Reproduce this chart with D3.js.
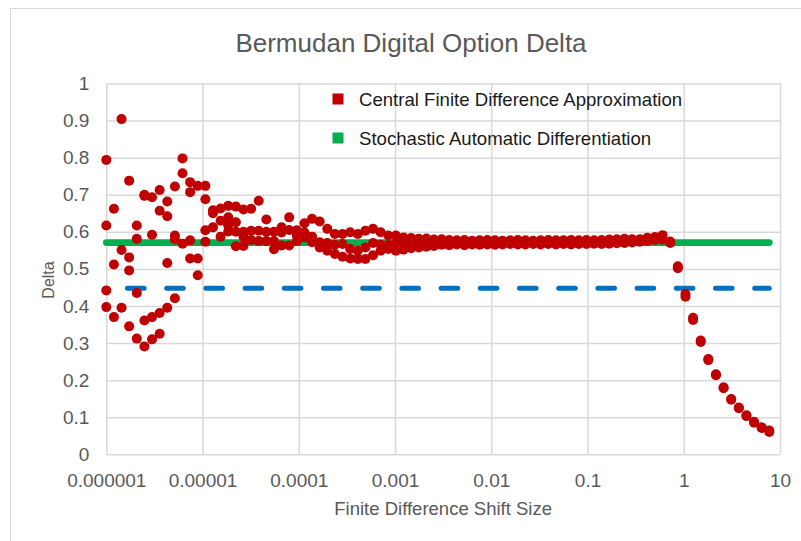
<!DOCTYPE html>
<html><head><meta charset="utf-8">
<script src="https://cdn.jsdelivr.net/npm/d3@7"></script>
<style>body{margin:0;background:#fff}svg{display:block}</style>
</head><body><svg id="c" width="801" height="541"></svg>
<script>
const chartTitle = "Bermudan Digital Option Delta";
const xAxisTitle = "Finite Difference Shift Size";
const yAxisTitle = "Delta";
const seriesNames = ["Central Finite Difference Approximation", "Stochastic Automatic Differentiation"];

const shiftSize = [1e-6,1.2e-6,1.44e-6,1.728e-6,2.074e-6,2.488e-6,2.986e-6,3.583e-6,4.3e-6,5.16e-6,
6.192e-6,7.43e-6,8.916e-6,1.07e-5,1.284e-5,1.541e-5,1.849e-5,2.219e-5,2.662e-5,3.195e-5,
3.834e-5,4.601e-5,5.521e-5,6.625e-5,7.95e-5,9.54e-5,1.145e-4,1.374e-4,1.648e-4,1.978e-4,
2.374e-4,2.849e-4,3.418e-4,4.102e-4,4.922e-4,5.907e-4,7.088e-4,8.506e-4,1.021e-3,1.225e-3,
1.47e-3,1.764e-3,2.116e-3,2.54e-3,3.048e-3,3.657e-3,4.389e-3,5.266e-3,6.32e-3,7.584e-3,
9.1e-3,1.092e-2,1.31e-2,1.573e-2,1.887e-2,2.264e-2,2.717e-2,3.261e-2,3.913e-2,4.696e-2,
5.635e-2,6.762e-2,8.114e-2,9.737e-2,0.1168,0.1402,0.1683,0.2019,0.2423,0.2907,
0.3489,0.4187,0.5024,0.6029,0.7235,0.8681,1.042,1.25,1.5,1.8,
2.16,2.592,3.111,3.733,4.479,5.375,6.45,7.74];

const deltaRunA = [0.794,0.662,0.904,0.738,0.617,0.700,0.693,0.713,0.682,0.722,
0.798,0.734,0.724,0.724,0.658,0.663,0.670,0.668,0.660,0.662,
0.684,0.633,0.600,0.612,0.639,0.604,0.623,0.635,0.628,0.608,
0.594,0.594,0.599,0.594,0.603,0.608,0.599,0.590,0.590,0.585,
0.583,0.581,0.582,0.579,0.580,0.578,0.577,0.578,0.576,0.577,
0.578,0.577,0.576,0.577,0.578,0.577,0.576,0.577,0.578,0.577,
0.577,0.578,0.577,0.578,0.577,0.578,0.579,0.580,0.581,0.580,
0.580,0.584,0.586,0.591,0.574,0.507,0.432,0.368,0.307,0.257,
0.216,0.181,0.149,0.126,0.105,0.088,0.073,0.064];

const deltaRunB = [0.617,0.512,0.551,0.531,0.581,0.697,0.592,0.657,0.642,0.590,
0.758,0.707,0.528,0.688,0.650,0.630,0.639,0.626,0.600,0.603,
0.603,0.600,0.575,0.598,0.605,0.590,0.598,0.587,0.572,0.570,
0.565,0.567,0.554,0.549,0.558,0.570,0.565,0.565,0.570,0.570,
0.572,0.567,0.570,0.566,0.565,0.564,0.566,0.564,0.566,0.565,
0.566,0.565,0.566,0.567,0.566,0.566,0.567,0.566,0.567,0.566,
0.567,0.566,0.567,0.567,0.568,0.567,0.568,0.569,0.570,0.571,
0.573,0.575,0.578,0.579,0.570,0.502,0.425,0.362,0.303,0.254,
0.213,0.178,0.147,0.124,0.103,0.085,0.071,0.060];

const deltaRunC = [0.442,0.370,0.395,0.496,0.435,0.361,0.370,0.381,0.516,0.580,
0.568,0.577,0.483,0.604,0.612,0.587,0.617,0.600,0.587,0.578,
0.575,0.575,0.553,0.563,0.563,0.575,0.585,0.572,0.558,0.549,
0.540,0.533,0.528,0.527,0.527,0.537,0.549,0.554,0.549,0.552,
0.556,0.558,0.560,0.562,null,null,null,null,null,null,
null,null,null,null,null,null,null,null,null,null,
null,null,null,null,null,null,null,null,null,null,
null,null,null,null,null,null,null,null,null,null,
null,null,null,null,null,null,null,null];

const deltaRunD = [0.397,null,null,0.345,0.312,0.291,0.310,0.325,0.395,0.421,
null,0.528,null,0.573,null,null,0.601,0.561,0.562,null,
null,null,null,null,null,null,null,null,null,null,
null,null,null,null,null,null,null,null,null,null,
null,null,null,null,null,null,null,null,null,null,
null,null,null,null,null,null,null,null,null,null,
null,null,null,null,null,null,null,null,null,null,
null,null,null,null,null,null,null,null,null,null,
null,null,null,null,null,null,null,null];

const sadDelta = 0.571;
const referenceDelta = 0.448;

const xTickValues = [1e-6,1e-5,1e-4,1e-3,1e-2,1e-1,1,10];
const xTickLabels = ["0.000001","0.00001","0.0001","0.001","0.01","0.1","1","10"];
const yTickValues = [0,0.1,0.2,0.3,0.4,0.5,0.6,0.7,0.8,0.9,1];
const yTickLabels = ["0","0.1","0.2","0.3","0.4","0.5","0.6","0.7","0.8","0.9","1"];

const FONT = "'Liberation Sans', Arial, Helvetica, sans-serif";
const RED = "#c00000", GREEN = "#00b050", BLUE = "#0070c0", GRID = "#d9d9d9", TXT = "#595959";

const L = 106.3, R = 780, T = 83.5, B = 454.3;
const svg = d3.select("#c");
svg.append("rect").attr("width", 801).attr("height", 541).attr("fill", "#fff");
svg.append("rect").attr("x", 10.5).attr("y", 8.5).attr("width", 800).attr("height", 540)
  .attr("fill", "none").attr("stroke", GRID).attr("stroke-width", 1);

const x = d3.scaleLog().domain([1e-6, 10]).range([L, R]);
const y = d3.scaleLinear().domain([0, 1]).range([B, T]);

const yAxis = svg.append("g").attr("transform", `translate(${L},0)`)
  .call(d3.axisLeft(y).tickValues(yTickValues).tickSize(-(R - L)).tickPadding(17)
    .tickFormat((d, i) => yTickLabels[i]));
const xAxis = svg.append("g").attr("transform", `translate(0,${B})`)
  .call(d3.axisBottom(x).tickValues(xTickValues).tickSize(-(B - T)).tickPadding(19.5)
    .tickFormat((d, i) => xTickLabels[i]));
[yAxis, xAxis].forEach(g => {
  g.select(".domain").remove();
  g.selectAll(".tick line").attr("stroke", GRID).attr("stroke-width", 1.5);
  g.selectAll(".tick text").attr("fill", TXT).style("font-family", FONT).style("font-size", "19px");
});

// reference (blue dashed) line
svg.append("line")
  .attr("x1", x(shiftSize[0])).attr("x2", x(shiftSize[shiftSize.length - 1]))
  .attr("y1", y(referenceDelta)).attr("y2", y(referenceDelta))
  .attr("stroke", BLUE).attr("stroke-width", 5).attr("stroke-linecap", "round")
  .attr("stroke-dasharray", "16.6,22.6").attr("stroke-dashoffset", 18);

// SAD (green) line
svg.append("line")
  .attr("x1", x(shiftSize[0])).attr("x2", x(shiftSize[shiftSize.length - 1]))
  .attr("y1", y(sadDelta)).attr("y2", y(sadDelta))
  .attr("stroke", GREEN).attr("stroke-width", 6.7).attr("stroke-linecap", "round");

// finite difference points
const runs = [deltaRunA, deltaRunB, deltaRunC, deltaRunD];
const pts = [];
runs.forEach(run => run.forEach((v, i) => { if (v != null) pts.push({ s: shiftSize[i], d: v }); }));
svg.append("g").selectAll("circle").data(pts).join("circle")
  .attr("cx", p => x(p.s)).attr("cy", p => y(p.d)).attr("r", 5).attr("fill", RED);

// title
svg.append("text").attr("x", 411).attr("y", 51.7).attr("text-anchor", "middle")
  .attr("fill", TXT).style("font-family", FONT).style("font-size", "26px").text(chartTitle);
// axis titles
svg.append("text").attr("x", (L + R) / 2).attr("y", 515).attr("text-anchor", "middle")
  .attr("fill", TXT).style("font-family", FONT).style("font-size", "18.5px").text(xAxisTitle);
svg.append("text").attr("transform", "translate(54,280) rotate(-90)").attr("text-anchor", "middle")
  .attr("fill", TXT).style("font-family", FONT).style("font-size", "16px").text(yAxisTitle);

// legend
const legend = svg.append("g");
[RED, GREEN].forEach((c, i) => {
  legend.append("rect").attr("x", 332.5).attr("y", 93.5 + i * 39).attr("width", 11).attr("height", 11).attr("fill", c);
  legend.append("text").attr("x", 359).attr("y", 105.5 + i * 39).attr("fill", "#1a1a1a")
    .style("font-family", FONT).style("font-size", "18.6px").text(seriesNames[i]);
});
</script>
</body></html>
